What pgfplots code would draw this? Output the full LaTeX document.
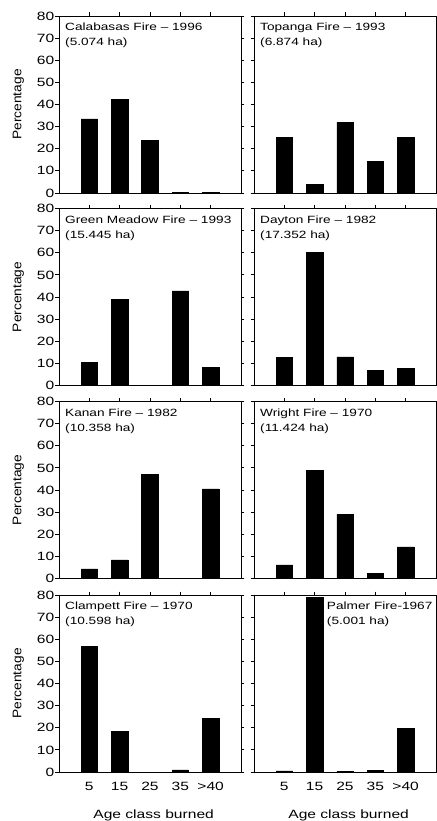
\documentclass[border=0pt]{standalone}
\usepackage{fontspec}
\setmainfont{Liberation Sans}[FakeStretch=1.3]
\newfontfamily\ylfont{Liberation Sans}[FakeStretch=1.1]
\usepackage{pgfplots}
\pgfplotsset{compat=1.18}
\tikzset{
  ttl/.style={anchor=north west, align=left, inner sep=0pt, font=\fontsize{10.5bp}{15bp}\selectfont},
  bars/.style={fill=black, draw=black, line width=0.5bp},
}
\pgfplotsset{
  panel/.style={
    scale only axis, width=182bp, height=177bp,
    anchor=south west,
    xmin=-1, xmax=5, ymin=0, ymax=80,
    ytick={0,10,...,80},
    xtick={0,1,2,3,4},
    tick align=outside,
    major tick length=3.5bp,
    xtick pos=right, xticklabel pos=left,
    ytick pos=both, yticklabel pos=left,
    axis line style={line width=0.8bp},
    every tick/.style={black, line width=0.8bp},
    /pgf/number format/assume math mode=true,
    ticklabel style={font=\fontsize{12bp}{14bp}\selectfont},
    yticklabel style={inner sep=1bp},
    xticklabel style={yshift=-3bp},
    ybar, bar width=16.5bp,
    xticklabels={},
  },
  leftp/.style={ylabel={Percentage},
    ylabel style={font=\ylfont\fontsize{12.5bp}{14bp}\selectfont, at={(rel axis cs:-0.192,0.5)}, anchor=south, inner sep=0pt}},
  rightp/.style={yticklabels={}},
  bottomp/.style={xticklabels={5,15,25,35,{>40}}, xlabel={Age class burned},
    xlabel style={font=\fontsize{12bp}{14bp}\selectfont, at={(rel axis cs:0.52,-0.21)}, anchor=north, inner sep=0pt}},
}
\begin{document}
\begin{tikzpicture}
% Row 1
\begin{axis}[panel, leftp, at={(59bp,628bp)}]
\addplot[bars] coordinates {(0,33.5) (1,42.3) (2,23.8) (3,0.3) (4,0.3)};
\node[ttl] at (rel axis cs:0.033,0.96) {Calabasas Fire -- 1996\\(5.074 ha)};
\end{axis}
\begin{axis}[panel, rightp, at={(254bp,628bp)}]
\addplot[bars] coordinates {(0,25) (1,3.8) (2,32) (3,14.3) (4,25)};
\node[ttl] at (rel axis cs:0.033,0.96) {Topanga Fire -- 1993\\(6.874 ha)};
\end{axis}
% Row 2
\begin{axis}[panel, leftp, at={(59bp,435.5bp)}]
\addplot[bars] coordinates {(0,10.6) (1,38.8) (2,0) (3,42.8) (4,8.3)};
\node[ttl] at (rel axis cs:0.033,0.96) {Green Meadow Fire -- 1993\\(15.445 ha)};
\end{axis}
\begin{axis}[panel, rightp, at={(254bp,435.5bp)}]
\addplot[bars] coordinates {(0,12.6) (1,60) (2,12.9) (3,6.9) (4,7.8)};
\node[ttl] at (rel axis cs:0.033,0.96) {Dayton Fire -- 1982\\(17.352 ha)};
\end{axis}
% Row 3
\begin{axis}[panel, leftp, at={(59bp,242.5bp)}]
\addplot[bars] coordinates {(0,4.4) (1,8.4) (2,47.2) (3,0) (4,40.5)};
\node[ttl] at (rel axis cs:0.033,0.96) {Kanan Fire -- 1982\\(10.358 ha)};
\end{axis}
\begin{axis}[panel, rightp, at={(254bp,242.5bp)}]
\addplot[bars] coordinates {(0,6.2) (1,49) (2,29) (3,2.3) (4,14.3)};
\node[ttl] at (rel axis cs:0.033,0.96) {Wright Fire -- 1970\\(11.424 ha)};
\end{axis}
% Row 4
\begin{axis}[panel, leftp, bottomp, at={(59bp,49bp)}]
\addplot[bars] coordinates {(0,56.8) (1,18.4) (2,0) (3,1) (4,24.3)};
\node[ttl] at (rel axis cs:0.033,0.96) {Clampett Fire -- 1970\\(10.598 ha)};
\end{axis}
\begin{axis}[panel, rightp, bottomp, at={(254bp,49bp)}]
\addplot[bars] coordinates {(0,0.5) (1,78.8) (2,0.3) (3,0.7) (4,19.7)};
\node[ttl] at (rel axis cs:0.4,0.96) {Palmer Fire-1967\\(5.001 ha)};
\end{axis}
\pgfresetboundingbox
\useasboundingbox (0,0) rectangle (437bp,821bp);
\end{tikzpicture}
\end{document}
